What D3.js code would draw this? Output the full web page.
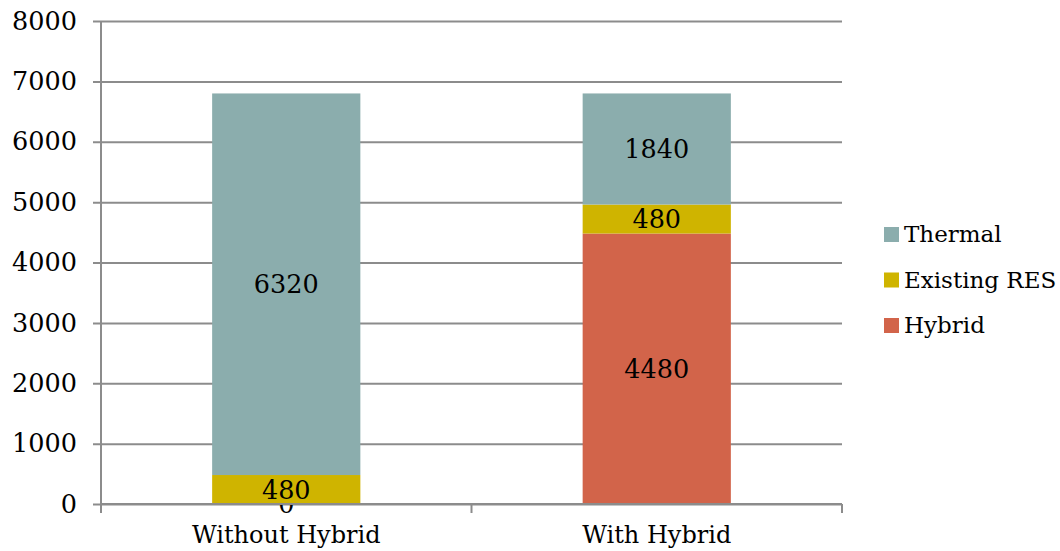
<!DOCTYPE html>
<html>
<head>
<meta charset="utf-8">
<script src="https://cdn.jsdelivr.net/npm/d3@7"></script>
<style>
  html, body { margin: 0; padding: 0; background: #fff; }
  svg { display: block; }
  text { font-family: "DejaVu Serif", "Liberation Serif", serif; fill: #000; }
</style>
</head>
<body>
<svg id="chart" width="1060" height="551"></svg>
<script>
// Capacity mix for the two scenarios
const categories = ["Without Hybrid", "With Hybrid"];
const seriesNames = ["Hybrid", "Existing RES", "Thermal"];   // stacking order, bottom to top
const hybridValues = [0, 4480];
const existingResValues = [480, 480];
const thermalValues = [6320, 1840];
const yTicks = [0, 1000, 2000, 3000, 4000, 5000, 6000, 7000, 8000];
const legendOrder = ["Thermal", "Existing RES", "Hybrid"];

const colors = {
  "Thermal": "#8badad",
  "Existing RES": "#cfb400",
  "Hybrid": "#d2644a"
};

const rows = categories.map((c, i) => ({
  category: c,
  "Hybrid": hybridValues[i],
  "Existing RES": existingResValues[i],
  "Thermal": thermalValues[i]
}));

const svg = d3.select("#chart");
const plot = { left: 101, right: 842, top: 21, bottom: 504 };

const x = d3.scaleBand()
  .domain(categories)
  .range([plot.left, plot.right])
  .paddingInner(0.6)
  .paddingOuter(0.3);

const y = d3.scaleLinear()
  .domain([0, 8000])
  .range([plot.bottom, plot.top]);

const gridColor = "#8c8c8c";
const numSize = 25.5;
const wordSize = 24;
const legendSize = 23;

// Horizontal gridlines with short outward ticks
const yAxis = d3.axisLeft(y)
  .tickValues(yTicks)
  .tickSize(-(plot.right - plot.left))
  .tickPadding(24)
  .tickFormat(d3.format("d"));

const gy = svg.append("g")
  .attr("transform", `translate(${plot.left},0)`)
  .call(yAxis);
gy.select(".domain").remove();
gy.selectAll(".tick line")
  .attr("x1", -8)
  .attr("stroke", gridColor)
  .attr("stroke-width", 2);
gy.selectAll(".tick text")
  .attr("font-size", numSize)
  .attr("font-family", "DejaVu Serif")
  .attr("fill", "#000");

// Vertical axis line
svg.append("line")
  .attr("x1", plot.left).attr("x2", plot.left)
  .attr("y1", plot.top).attr("y2", plot.bottom + 9)
  .attr("stroke", gridColor).attr("stroke-width", 2);

// Stacked bars
const stack = d3.stack().keys(seriesNames);
const stacked = stack(rows);

const layers = svg.append("g").selectAll("g")
  .data(stacked)
  .join("g")
  .attr("fill", d => colors[d.key]);

layers.selectAll("rect")
  .data(d => d.map(p => ({ p, key: d.key })))
  .join("rect")
  .attr("x", d => x(d.p.data.category))
  .attr("width", x.bandwidth())
  .attr("y", d => y(d.p[1]))
  .attr("height", d => y(d.p[0]) - y(d.p[1]));

// Category axis with boundary ticks
const edges = [plot.left, (plot.left + plot.right) / 2, plot.right];
svg.append("line")
  .attr("x1", plot.left).attr("x2", plot.right)
  .attr("y1", plot.bottom).attr("y2", plot.bottom)
  .attr("stroke", gridColor).attr("stroke-width", 2);
svg.append("g").selectAll("line")
  .data(edges)
  .join("line")
  .attr("x1", d => d).attr("x2", d => d)
  .attr("y1", plot.bottom).attr("y2", plot.bottom + 9)
  .attr("stroke", gridColor).attr("stroke-width", 2);

svg.append("g").selectAll("text")
  .data(categories)
  .join("text")
  .attr("x", d => x(d) + x.bandwidth() / 2)
  .attr("y", 543)
  .attr("text-anchor", "middle")
  .attr("font-size", wordSize)
  .text(d => d);

// Value labels centered in each segment
layers.selectAll("text")
  .data(d => d.map(p => ({ p, key: d.key })))
  .join("text")
  .attr("x", d => x(d.p.data.category) + x.bandwidth() / 2)
  .attr("y", d => (y(d.p[0]) + y(d.p[1])) / 2)
  .attr("text-anchor", "middle")
  .attr("dominant-baseline", "central")
  .attr("font-size", numSize)
  .attr("fill", "#000")
  .text(d => d.p.data[d.key]);

// Legend
const legend = svg.append("g").selectAll("g")
  .data(legendOrder)
  .join("g")
  .attr("transform", (d, i) => `translate(884,${227 + i * 45.5})`);
legend.append("rect")
  .attr("width", 15).attr("height", 15)
  .attr("fill", d => colors[d]);
legend.append("text")
  .attr("x", 20)
  .attr("y", 15)
  .attr("font-size", legendSize)
  .text(d => d);
</script>
</body>
</html>
